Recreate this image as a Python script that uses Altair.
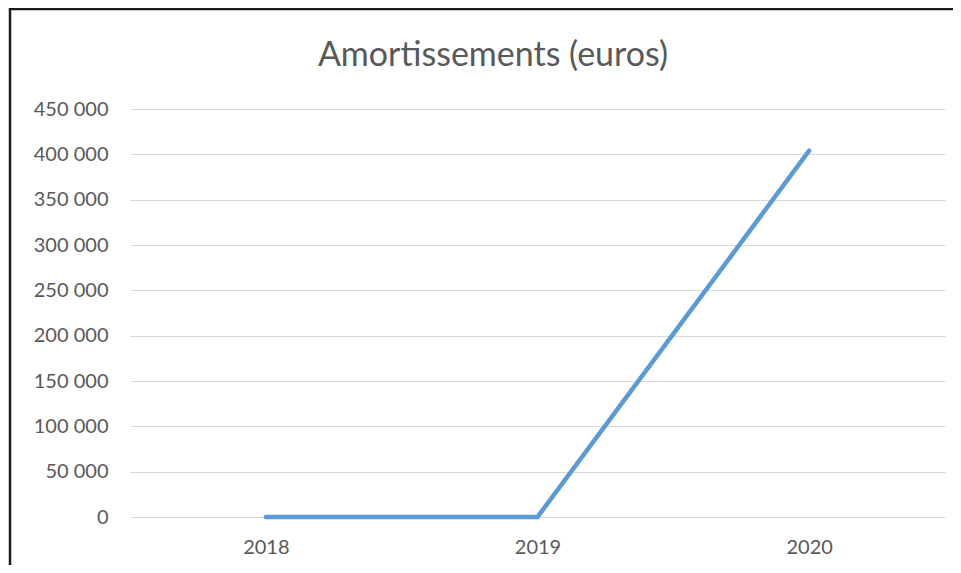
import altair as alt
import pandas as pd

years = ["2018", "2019", "2020"]
amortissements = [0, 0, 404000]
y_ticks = [0, 50000, 100000, 150000, 200000, 250000, 300000, 350000, 400000, 450000]
title_text = "Amortissements (euros)"

df = pd.DataFrame({"annee": years, "montant": amortissements})

W, H = 815, 408
PAD = {"left": 122, "top": 101, "right": 8, "bottom": 48}
FONT = "Lato"
GRAY = "#595959"

line = alt.Chart(df).mark_line(
    color="#5B9BD5", strokeWidth=4.5, strokeCap="round"
).encode(
    x=alt.X("annee:O", sort=years,
            scale=alt.Scale(type="point", padding=0.5),
            axis=alt.Axis(title=None, labelAngle=0, ticks=False, domain=False,
                          grid=False, labelFont=FONT, labelFontSize=20,
                          labelColor=GRAY, labelPadding=20)),
    y=alt.Y("montant:Q",
            scale=alt.Scale(domain=[0, 450000], nice=False),
            axis=alt.Axis(title=None, values=y_ticks, ticks=False, domain=False,
                          grid=True, gridColor="#D9D9D9", gridWidth=1,
                          labelFont=FONT, labelFontSize=20, labelColor=GRAY,
                          labelPadding=22,
                          labelExpr="replace(format(datum.value, ','), ',', ' ')")),
)

single = alt.Chart(pd.DataFrame({"k": [0]}))
title_mark = single.mark_text(
    text=title_text, font=FONT, fontSize=34, color=GRAY,
    align="center", baseline="alphabetic"
).encode(x=alt.value(363), y=alt.value(-43))

left_border = single.mark_rule(color="#1a1a1a", strokeWidth=2.5).encode(
    x=alt.value(-120), y=alt.value(-101), y2=alt.value(H + PAD["bottom"] + 5)
)
top_border = single.mark_rule(color="#1a1a1a", strokeWidth=2.5).encode(
    x=alt.value(-121), x2=alt.value(W + PAD["right"] + 5), y=alt.value(-100)
)

chart = alt.layer(line, title_mark, left_border, top_border).properties(
    width=W, height=H,
    padding=PAD,
    background="white",
    autosize=alt.AutoSizeParams(type="none"),
).configure_view(stroke=None, strokeWidth=0)

chart.save("out.html", embed_options={"renderer": "svg", "actions": False})
